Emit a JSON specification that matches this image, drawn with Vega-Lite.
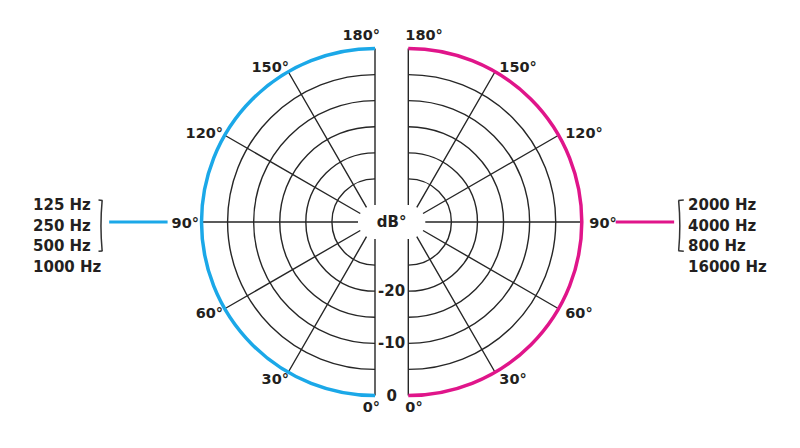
{
  "$schema": "https://vega.github.io/schema/vega-lite/v6.json",
  "width": 800,
  "height": 444,
  "padding": 0,
  "autosize": {"type": "none"},
  "background": "white",
  "config": {
    "view": {"stroke": null},
    "text": {"font": "DejaVu Sans", "fontWeight": "bold", "color": "#231f20"}
  },
  "datasets": {
    "rings": [
      {"level": -25}, {"level": -20}, {"level": -15}, {"level": -10}, {"level": -5}, {"level": 0}
    ],
    "angles": [
      {"angle": 0, "label": "0°"},
      {"angle": 30, "label": "30°"},
      {"angle": 60, "label": "60°"},
      {"angle": 90, "label": "90°"},
      {"angle": 120, "label": "120°"},
      {"angle": 150, "label": "150°"},
      {"angle": 180, "label": "180°"}
    ],
    "dbLabels": [
      {"level": -20, "label": "-20"},
      {"level": -10, "label": "-10"},
      {"level": 0, "label": "0"}
    ],
    "units": [{"unit": "dB°"}],
    "groups": [
      {"side": "left", "band": "low"},
      {"side": "right", "band": "high"}
    ],
    "freqs": [
      {"side": "left", "freq": "125 Hz", "line": 1},
      {"side": "left", "freq": "250 Hz", "line": 2},
      {"side": "left", "freq": "500 Hz", "line": 3},
      {"side": "left", "freq": "1000 Hz", "line": 4},
      {"side": "right", "freq": "2000 Hz", "line": 1},
      {"side": "right", "freq": "4000 Hz", "line": 2},
      {"side": "right", "freq": "800 Hz", "line": 3},
      {"side": "right", "freq": "16000 Hz", "line": 4}
    ]
  },
  "resolve": {"scale": {"theta": "independent"}},
  "layer": [
    {
      "data": {"name": "rings"},
      "transform": [{"filter": "datum.level < 0"}],
      "mark": {"type": "arc", "filled": false, "stroke": "#262626", "strokeWidth": 1.4},
      "encoding": {
        "x": {"datum": "left", "type": "nominal", "axis": null, "scale": {"type": "point", "domain": ["left", "mid", "right"], "range": [375, 408.3], "padding": 0}},
        "theta": {"datum": 0, "type": "quantitative", "stack": null, "scale": {"type": "linear", "domain": [0, 180], "range": [3.141592653589793, 6.283185307179586], "nice": false, "zero": false}},
        "theta2": {"datum": 180},
        "radius": {"field": "level", "type": "quantitative", "scale": {"type": "linear", "domain": [-30, 0], "range": [17, 173.5], "nice": false, "zero": false}},
        "radius2": {"field": "level"}
      }
    },
    {
      "data": {"name": "rings"},
      "transform": [{"filter": "datum.level < 0"}],
      "mark": {"type": "arc", "filled": false, "stroke": "#262626", "strokeWidth": 1.4},
      "encoding": {
        "x": {"datum": "right", "type": "nominal", "axis": null, "scale": {"type": "point", "domain": ["left", "mid", "right"], "range": [375, 408.3], "padding": 0}},
        "theta": {"datum": 0, "type": "quantitative", "stack": null, "scale": {"type": "linear", "domain": [0, 180], "range": [3.141592653589793, 0], "nice": false, "zero": false}},
        "theta2": {"datum": 180},
        "radius": {"field": "level", "type": "quantitative", "scale": {"type": "linear", "domain": [-30, 0], "range": [17, 173.5], "nice": false, "zero": false}},
        "radius2": {"field": "level"}
      }
    },
    {
      "data": {"name": "angles"},
      "mark": {"type": "arc", "filled": false, "stroke": "#262626", "strokeWidth": 1.4},
      "encoding": {
        "x": {"datum": "left", "type": "nominal", "axis": null},
        "theta": {"field": "angle", "type": "quantitative", "stack": null, "scale": {"type": "linear", "domain": [0, 180], "range": [3.141592653589793, 6.283185307179586], "nice": false, "zero": false}},
        "theta2": {"field": "angle"},
        "radius": {"datum": -30, "type": "quantitative"},
        "radius2": {"datum": 0}
      }
    },
    {
      "data": {"name": "angles"},
      "mark": {"type": "arc", "filled": false, "stroke": "#262626", "strokeWidth": 1.4},
      "encoding": {
        "x": {"datum": "right", "type": "nominal", "axis": null},
        "theta": {"field": "angle", "type": "quantitative", "stack": null, "scale": {"type": "linear", "domain": [0, 180], "range": [3.141592653589793, 0], "nice": false, "zero": false}},
        "theta2": {"field": "angle"},
        "radius": {"datum": -30, "type": "quantitative"},
        "radius2": {"datum": 0}
      }
    },
    {
      "data": {"name": "rings"},
      "transform": [{"filter": "datum.level == 0"}],
      "mark": {"type": "arc", "filled": false, "stroke": "#1ba8e8", "strokeWidth": 3.5},
      "encoding": {
        "x": {"datum": "left", "type": "nominal", "axis": null},
        "theta": {"datum": 0, "type": "quantitative", "stack": null, "scale": {"type": "linear", "domain": [0, 180], "range": [3.141592653589793, 6.283185307179586], "nice": false, "zero": false}},
        "theta2": {"datum": 180},
        "radius": {"field": "level", "type": "quantitative"},
        "radius2": {"field": "level"}
      }
    },
    {
      "data": {"name": "rings"},
      "transform": [{"filter": "datum.level == 0"}],
      "mark": {"type": "arc", "filled": false, "stroke": "#e0158a", "strokeWidth": 3.5},
      "encoding": {
        "x": {"datum": "right", "type": "nominal", "axis": null},
        "theta": {"datum": 0, "type": "quantitative", "stack": null, "scale": {"type": "linear", "domain": [0, 180], "range": [3.141592653589793, 0], "nice": false, "zero": false}},
        "theta2": {"datum": 180},
        "radius": {"field": "level", "type": "quantitative"},
        "radius2": {"field": "level"}
      }
    },
    {
      "data": {"name": "angles"},
      "transform": [{"filter": "datum.angle % 180 != 0"}],
      "mark": {"type": "text", "align": "right", "baseline": "middle", "dx": 4, "dy": 2, "fontSize": 14.5},
      "encoding": {
        "x": {"datum": "left", "type": "nominal", "axis": null},
        "theta": {"field": "angle", "type": "quantitative", "stack": null, "scale": {"type": "linear", "domain": [0, 180], "range": [3.141592653589793, 6.283185307179586], "nice": false, "zero": false}},
        "radius": {"datum": 1.25, "type": "quantitative"},
        "text": {"field": "label"}
      }
    },
    {
      "data": {"name": "angles"},
      "transform": [{"filter": "datum.angle % 180 == 0"}],
      "mark": {"type": "text", "align": "right", "baseline": "middle", "dx": 5, "fontSize": 14.5},
      "encoding": {
        "x": {"datum": "left", "type": "nominal", "axis": null},
        "theta": {"field": "angle", "type": "quantitative", "stack": null, "scale": {"type": "linear", "domain": [0, 180], "range": [3.141592653589793, 6.283185307179586], "nice": false, "zero": false}},
        "radius": {"datum": 2.4, "type": "quantitative"},
        "text": {"field": "label"}
      }
    },
    {
      "data": {"name": "angles"},
      "transform": [{"filter": "datum.angle % 180 != 0"}],
      "mark": {"type": "text", "align": "left", "baseline": "middle", "dx": 1, "dy": 2, "fontSize": 14.5},
      "encoding": {
        "x": {"datum": "right", "type": "nominal", "axis": null},
        "theta": {"field": "angle", "type": "quantitative", "stack": null, "scale": {"type": "linear", "domain": [0, 180], "range": [3.141592653589793, 0], "nice": false, "zero": false}},
        "radius": {"datum": 1.25, "type": "quantitative"},
        "text": {"field": "label"}
      }
    },
    {
      "data": {"name": "angles"},
      "transform": [{"filter": "datum.angle % 180 == 0"}],
      "mark": {"type": "text", "align": "left", "baseline": "middle", "dx": -3, "fontSize": 14.5},
      "encoding": {
        "x": {"datum": "right", "type": "nominal", "axis": null},
        "theta": {"field": "angle", "type": "quantitative", "stack": null, "scale": {"type": "linear", "domain": [0, 180], "range": [3.141592653589793, 0], "nice": false, "zero": false}},
        "radius": {"datum": 2.4, "type": "quantitative"},
        "text": {"field": "label"}
      }
    },
    {
      "data": {"name": "dbLabels"},
      "mark": {"type": "text", "align": "center", "baseline": "middle", "fontSize": 15},
      "encoding": {
        "x": {"datum": "mid", "type": "nominal", "axis": null},
        "theta": {"datum": 0, "type": "quantitative", "stack": null, "scale": {"type": "linear", "domain": [0, 180], "range": [3.141592653589793, 0], "nice": false, "zero": false}},
        "radius": {"field": "level", "type": "quantitative"},
        "text": {"field": "label"}
      }
    },
    {
      "data": {"name": "units"},
      "mark": {"type": "text", "align": "center", "baseline": "middle", "fontSize": 15},
      "encoding": {
        "x": {"datum": "mid", "type": "nominal", "axis": null},
        "text": {"field": "unit"}
      }
    },
    {
      "data": {"name": "freqs"},
      "transform": [{"filter": "datum.side == 'left'"}],
      "mark": {"type": "text", "align": "left", "baseline": "middle", "fontSize": 15},
      "encoding": {
        "x": {"datum": "left", "type": "nominal", "axis": null},
        "y": {"field": "line", "type": "quantitative", "axis": null, "scale": {"type": "linear", "domain": [1, 4], "range": [205, 267], "nice": false, "zero": false}},
        "theta": {"datum": 90, "type": "quantitative", "stack": null, "scale": {"type": "linear", "domain": [0, 180], "range": [3.141592653589793, 6.283185307179586], "nice": false, "zero": false}},
        "radius": {"datum": 32.3, "type": "quantitative"},
        "text": {"field": "freq"}
      }
    },
    {
      "data": {"name": "freqs"},
      "transform": [{"filter": "datum.side == 'right'"}],
      "mark": {"type": "text", "align": "left", "baseline": "middle", "fontSize": 15},
      "encoding": {
        "x": {"datum": "right", "type": "nominal", "axis": null},
        "y": {"field": "line", "type": "quantitative", "axis": null},
        "theta": {"datum": 90, "type": "quantitative", "stack": null, "scale": {"type": "linear", "domain": [0, 180], "range": [3.141592653589793, 0], "nice": false, "zero": false}},
        "radius": {"datum": 20.36, "type": "quantitative"},
        "text": {"field": "freq"}
      }
    },
    {
      "data": {"name": "groups"},
      "transform": [{"filter": "datum.side == 'left'"}],
      "mark": {"type": "arc", "filled": false, "stroke": "#1ba8e8", "strokeWidth": 3},
      "encoding": {
        "x": {"datum": "left", "type": "nominal", "axis": null},
        "theta": {"datum": 90, "type": "quantitative", "stack": null, "scale": {"type": "linear", "domain": [0, 180], "range": [3.141592653589793, 6.283185307179586], "nice": false, "zero": false}},
        "theta2": {"datum": 90},
        "radius": {"datum": 6.5, "type": "quantitative"},
        "radius2": {"datum": 17.7}
      }
    },
    {
      "data": {"name": "groups"},
      "transform": [{"filter": "datum.side == 'right'"}],
      "mark": {"type": "arc", "filled": false, "stroke": "#e0158a", "strokeWidth": 3},
      "encoding": {
        "x": {"datum": "right", "type": "nominal", "axis": null},
        "theta": {"datum": 90, "type": "quantitative", "stack": null, "scale": {"type": "linear", "domain": [0, 180], "range": [3.141592653589793, 0], "nice": false, "zero": false}},
        "theta2": {"datum": 90},
        "radius": {"datum": 6.5, "type": "quantitative"},
        "radius2": {"datum": 17.7}
      }
    },
    {
      "data": {"name": "groups"},
      "transform": [{"filter": "datum.side == 'left'"}],
      "mark": {"type": "arc", "filled": false, "stroke": "#333333", "strokeWidth": 1.5},
      "encoding": {
        "x": {"datum": "left", "type": "nominal", "axis": null},
        "y": {"datum": 2, "type": "quantitative", "axis": null},
        "theta": {"datum": 84.7, "type": "quantitative", "stack": null, "scale": {"type": "linear", "domain": [0, 180], "range": [3.141592653589793, 6.283185307179586], "nice": false, "zero": false}},
        "theta2": {"datum": 95.3},
        "radius": {"datum": 19.27, "type": "quantitative"},
        "radius2": {"datum": 19.27}
      }
    },
    {
      "data": {"name": "groups"},
      "transform": [{"filter": "datum.side == 'left'"}],
      "mark": {"type": "arc", "filled": false, "stroke": "#333333", "strokeWidth": 1.5},
      "encoding": {
        "x": {"datum": "left", "type": "nominal", "axis": null},
        "y": {"datum": 2, "type": "quantitative", "axis": null},
        "theta": {"datum": 84.7, "type": "quantitative", "stack": null, "scale": {"type": "linear", "domain": [0, 180], "range": [3.141592653589793, 6.283185307179586], "nice": false, "zero": false}},
        "theta2": {"datum": 84.7},
        "radius": {"datum": 19.2, "type": "quantitative"},
        "radius2": {"datum": 19.97}
      }
    },
    {
      "data": {"name": "groups"},
      "transform": [{"filter": "datum.side == 'left'"}],
      "mark": {"type": "arc", "filled": false, "stroke": "#333333", "strokeWidth": 1.5},
      "encoding": {
        "x": {"datum": "left", "type": "nominal", "axis": null},
        "y": {"datum": 2, "type": "quantitative", "axis": null},
        "theta": {"datum": 95.3, "type": "quantitative", "stack": null, "scale": {"type": "linear", "domain": [0, 180], "range": [3.141592653589793, 6.283185307179586], "nice": false, "zero": false}},
        "theta2": {"datum": 95.3},
        "radius": {"datum": 19.2, "type": "quantitative"},
        "radius2": {"datum": 19.97}
      }
    },
    {
      "data": {"name": "groups"},
      "transform": [{"filter": "datum.side == 'right'"}],
      "mark": {"type": "arc", "filled": false, "stroke": "#333333", "strokeWidth": 1.5},
      "encoding": {
        "x": {"datum": "right", "type": "nominal", "axis": null},
        "y": {"datum": 2, "type": "quantitative", "axis": null},
        "theta": {"datum": 84.7, "type": "quantitative", "stack": null, "scale": {"type": "linear", "domain": [0, 180], "range": [3.141592653589793, 0], "nice": false, "zero": false}},
        "theta2": {"datum": 95.3},
        "radius": {"datum": 18.79, "type": "quantitative"},
        "radius2": {"datum": 18.79}
      }
    },
    {
      "data": {"name": "groups"},
      "transform": [{"filter": "datum.side == 'right'"}],
      "mark": {"type": "arc", "filled": false, "stroke": "#333333", "strokeWidth": 1.5},
      "encoding": {
        "x": {"datum": "right", "type": "nominal", "axis": null},
        "y": {"datum": 2, "type": "quantitative", "axis": null},
        "theta": {"datum": 84.7, "type": "quantitative", "stack": null, "scale": {"type": "linear", "domain": [0, 180], "range": [3.141592653589793, 0], "nice": false, "zero": false}},
        "theta2": {"datum": 84.7},
        "radius": {"datum": 18.72, "type": "quantitative"},
        "radius2": {"datum": 19.78}
      }
    },
    {
      "data": {"name": "groups"},
      "transform": [{"filter": "datum.side == 'right'"}],
      "mark": {"type": "arc", "filled": false, "stroke": "#333333", "strokeWidth": 1.5},
      "encoding": {
        "x": {"datum": "right", "type": "nominal", "axis": null},
        "y": {"datum": 2, "type": "quantitative", "axis": null},
        "theta": {"datum": 95.3, "type": "quantitative", "stack": null, "scale": {"type": "linear", "domain": [0, 180], "range": [3.141592653589793, 0], "nice": false, "zero": false}},
        "theta2": {"datum": 95.3},
        "radius": {"datum": 18.72, "type": "quantitative"},
        "radius2": {"datum": 19.78}
      }
    }
  ]
}
